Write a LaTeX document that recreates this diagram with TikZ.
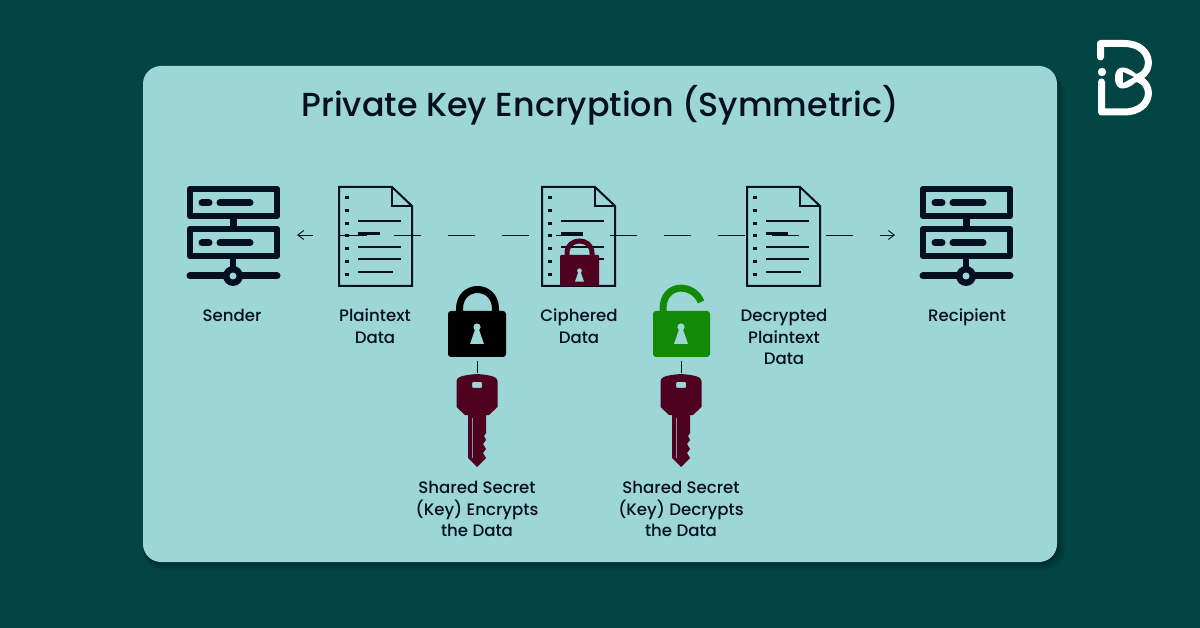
\documentclass[tikz,border=0pt]{standalone}
\usepackage{fontspec}
\setmainfont{Poppins Medium}
\usepackage{tikz}
\usetikzlibrary{arrows.meta}

\definecolor{bgteal}{HTML}{024544}
\definecolor{cardteal}{HTML}{9CD6D7}
\definecolor{inkblue}{HTML}{050F22}
\definecolor{keyred}{HTML}{4F0220}
\definecolor{lockgreen}{HTML}{138A05}

\tikzset{
    label/.style={text=inkblue,align=center,font=\fontsize{16.6}{21.7}\selectfont},
    server/.pic={
        \draw[inkblue,line width=6.5pt,line join=round](190,189)rectangle(277,216);
        \draw[inkblue,line width=6.5pt,line join=round](190,229)rectangle(277,256);
        \draw[inkblue,line width=7pt](233,219)--(233,226);
        \draw[inkblue,line width=6.5pt](233,259)--(233,276);
        \draw[inkblue,line width=7pt,line cap=round](202,203)--(209,203);
        \draw[inkblue,line width=7pt,line cap=round](220,203)--(250,203);
        \draw[inkblue,line width=7pt,line cap=round](202,243)--(209,243);
        \draw[inkblue,line width=7pt,line cap=round](220,243)--(250,243);
        \draw[inkblue,line width=7pt,line cap=round](190,276)--(277,276);
        \fill[inkblue](233,276)circle(10);
        \fill[cardteal](233,276)circle(3.5);
    },
    document/.pic={
        \draw[inkblue,line width=2pt,line join=miter](339,187)--(392,187)--(412,206)--(412,286)--(339,286)--cycle;
        \draw[inkblue,line width=2pt](392,187)--(392,206)--(412,206);
        \foreach \y in {198,211,223.5,236,249,262,275}
            \draw[inkblue,line width=3pt](345,\y)--(349,\y);
        \foreach \y in {221,247,259.5}
            \draw[inkblue,line width=2pt](358,\y)--(401,\y);
        \draw[inkblue,line width=2.4pt](358,233.5)--(380,233.5);
        \draw[inkblue,line width=2pt](358,272)--(393,272);
    },
    keyhole/.pic={
        \fill[cardteal](0,-2)circle(3.6);
        \fill[cardteal](-1.8,0)--(1.8,0)--(7,15)--(-7,15)--cycle;
    },
    secretkey/.pic={
        \fill[keyred,even odd rule]
            (-20.5,7)..controls(-20.5,3)and(-14,1)..(0,0)..controls(14,1)and(20.5,3)..(20.5,7)
            --(20.5,33)--(12,41)--(9,41)--(9,59)--(7,62)--(9,66)--(6,70)--(9,75)--(6,79)--(9,84)--(0,93)--(-9,84)--(-9,41)--(-12,41)--(-20.5,33)--cycle
            [rounded corners=1pt](-5,8)rectangle(5,14);
        \draw[cardteal!70!keyred,line width=0.6pt](-4.5,44)--(-4.5,84);
    },
}

\begin{document}
\begin{tikzpicture}[x=1pt,y=-1pt]
    \useasboundingbox(0,0)rectangle(1200,628);
    % 背景和卡片
    \fill[bgteal](0,0)rectangle(1200,628);
    \foreach \d/\o in {8/0.06,6/0.08,4/0.1,2/0.12}
        \fill[black,opacity=\o,rounded corners=20pt](143,66+\d)rectangle(1057+\d,562+\d);
    \fill[cardteal,rounded corners=18pt](143,66)rectangle(1057,562);
    % 标题
    \node(title)[text=inkblue,font=\fontsize{33.3}{40}\selectfont]at(600,105){Private Key Encryption (Symmetric)};
    % 图标
    \pic{server};
    \pic[xshift=733pt]{server};
    \pic{document};
    \pic[xshift=203pt]{document};
    \pic[xshift=408pt]{document};
    % 虚线箭头
    \coordinate(senderend)at(297,235);
    \coordinate(recipientend)at(895,235);
    \draw[{Straight Barb[length=6pt,width=9pt]}-{Straight Barb[length=6pt,width=9pt]},inkblue,line width=0.9pt,dash pattern=on 27pt off 27pt,dash phase=12pt](senderend)--(recipientend);
    % 文档上的小锁
    \draw[keyred,line width=5pt](567,258)--(567,253)..controls(567,237)and(592,237)..(592,253)--(592,258);
    \fill[keyred,rounded corners=1pt](560,255)rectangle(599,286);
    \pic[xshift=579.5pt,yshift=-272pt,scale=0.65]{keyhole};
    % 黑锁
    \draw[black,line width=7pt](459.5,314)--(459.5,309)..controls(459.5,283)and(495.5,283)..(495.5,309)--(495.5,314);
    \fill[black,rounded corners=3pt](448,311)rectangle(506,357);
    \pic[xshift=477pt,yshift=-329pt]{keyhole};
    % 绿锁
    \draw[lockgreen,line width=7pt](663,314)--(663,309)..controls(663,282)and(694,283)..(701,302);
    \fill[lockgreen,rounded corners=3pt](653,311)rectangle(710,357);
    \pic[xshift=681pt,yshift=-329pt]{keyhole};
    % 钥匙
    \pic[xshift=477pt,yshift=-374pt]{secretkey};
    \pic[xshift=681pt,yshift=-374pt]{secretkey};
    \coordinate(lockone)at(477,361);
    \coordinate(keyone)at(477,373);
    \coordinate(locktwo)at(681,361);
    \coordinate(keytwo)at(681,373);
    \draw[inkblue,line width=0.9pt](lockone)--(keyone);
    \draw[inkblue,line width=0.9pt](locktwo)--(keytwo);
    % 标签
    \node(sender)[label,anchor=base]at(232,322){Sender};
    \node(plaintext)[label]at(375,326){Plaintext\\Data};
    \node(ciphered)[label]at(579,326){Ciphered\\Data};
    \node(decrypted)[label]at(784,337){Decrypted\\Plaintext\\Data};
    \node(recipient)[label,anchor=base]at(967,322){Recipient};
    \node(encrypts)[label]at(477,509){Shared Secret\\(Key) Encrypts\\the Data};
    \node(decrypts)[label]at(681,509){Shared Secret\\(Key) Decrypts\\the Data};
    % 标志
    \draw[white,line width=7pt,line cap=round,line join=round](1100.5,57)--(1100.5,43.5)--(1124,43.5)
        ..controls(1155,43.5)and(1155,78)..(1132,78)..controls(1155,78)and(1155,112)..(1124,112)--(1101.5,112)--(1101.5,82);
    \fill[white](1102,72)circle(4.2);
    \fill[white](1140,78)..controls(1130,66)and(1115,62)..(1115,78)..controls(1115,94)and(1130,90)..(1140,78)--cycle;
    \fill[bgteal](1134,77)--(1123,72)--(1123,83)--cycle;
\end{tikzpicture}
\end{document}
